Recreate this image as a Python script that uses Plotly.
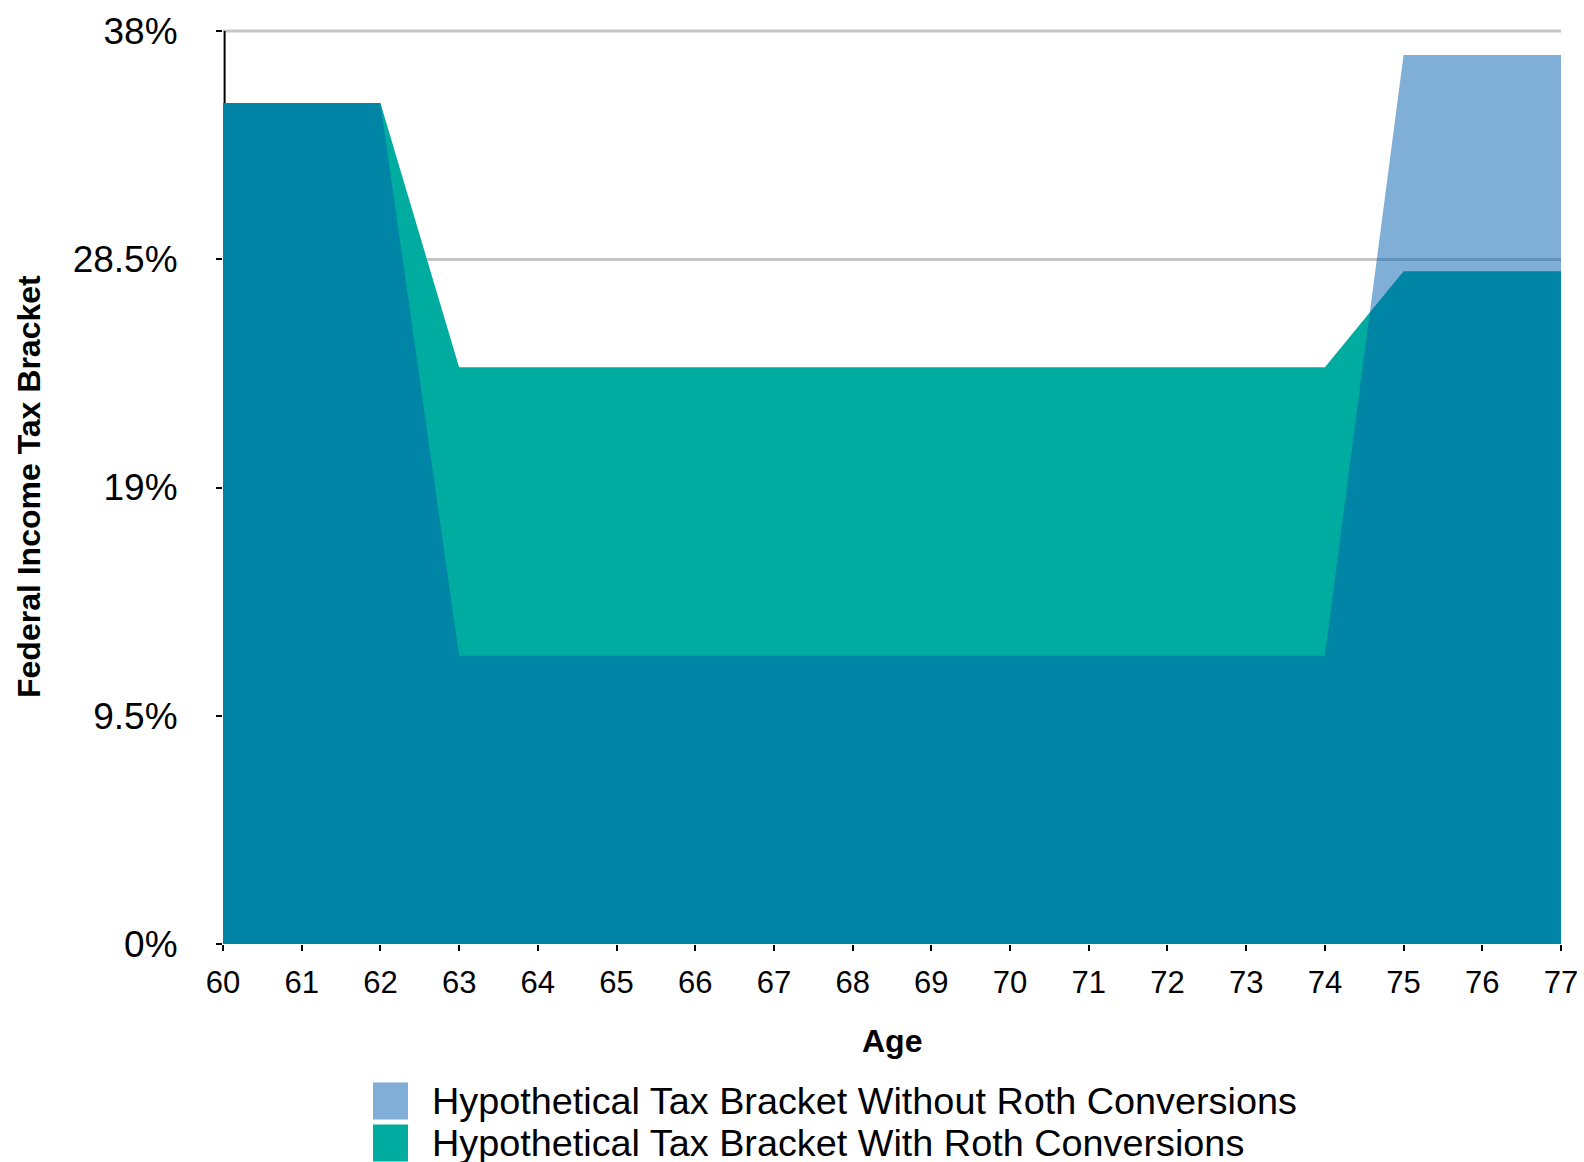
import plotly.graph_objects as go

# Ages and hypothetical federal income tax brackets (%)
ages = list(range(60, 78))
without_roth = [35, 35, 35] + [12] * 12 + [37, 37, 37]
with_roth = [35, 35, 35] + [24] * 12 + [28, 28, 28]

y_tick_vals = [0, 9.5, 19, 28.5, 38]
y_tick_text = ["0%", "9.5%", "19%", "28.5%", "38%"]

legend_names = [
    "Hypothetical Tax Bracket Without Roth Conversions",
    "Hypothetical Tax Bracket With Roth Conversions",
]
legend_colors = ["#80aed6", "#00aca0"]

FONT = "Liberation Sans, Arial, Helvetica, sans-serif"
GRID = "#c4c4c4"

W, H = 1584, 1162
L, R, T, B = 223, 23, 31, 218
plot_w = W - L - R
plot_h = H - T - B


def px_x(px):
    return (px - L) / plot_w


def px_y(py):
    return (H - B - py) / plot_h


fig = go.Figure()

# "With" series: opaque teal area
fig.add_trace(go.Scatter(
    x=ages, y=with_roth, mode="none", fill="tozeroy",
    fillcolor="#00aca0", name=legend_names[1], showlegend=False,
    hoverinfo="skip",
))
# "Without" series: translucent blue area drawn on top, overlap turns dark
fig.add_trace(go.Scatter(
    x=ages, y=without_roth, mode="none", fill="tozeroy",
    fillcolor="rgba(0,93,173,0.5)", name=legend_names[0], showlegend=False,
    hoverinfo="skip",
))

annotations = []
shapes = [
    # top gridline and the vertical axis line, both beneath the areas
    dict(type="line", xref="x domain", yref="y domain",
         x0=0, x1=1, y0=1, y1=1, layer="below",
         line=dict(color=GRID, width=3)),
    dict(type="line", xref="x domain", yref="y domain",
         x0=0.0012, x1=0.0012, y0=0, y1=1, layer="below",
         line=dict(color="#000", width=2)),
]

# Legend drawn as swatches and text below the chart
row_centers = [1101, 1143]
for name, color, cy in zip(legend_names, legend_colors, row_centers):
    shapes.append(dict(
        type="rect", xref="paper", yref="paper",
        x0=px_x(373), x1=px_x(408), y0=px_y(cy - 18.5), y1=px_y(cy + 18.5),
        fillcolor=color, line=dict(width=0), layer="above",
    ))
    annotations.append(dict(
        text=name, xref="paper", yref="paper",
        x=px_x(430), y=px_y(cy), xanchor="left", yanchor="middle",
        showarrow=False, font=dict(family=FONT, size=37.8, color="#000"),
    ))

# Axis titles
annotations.append(dict(
    text="<b>Age</b>", xref="paper", yref="paper",
    x=px_x(892), y=px_y(1041), xanchor="center", yanchor="middle",
    showarrow=False, font=dict(family=FONT, size=32, color="#000"),
))
annotations.append(dict(
    text="<b>Federal Income Tax Bracket</b>", xref="paper", yref="paper",
    x=px_x(29), y=px_y(487), xanchor="center", yanchor="middle",
    textangle=-90, showarrow=False,
    font=dict(family=FONT, size=32, color="#000"),
))

fig.update_layout(
    width=W, height=H,
    margin=dict(l=L, r=R, t=T, b=B, pad=0, autoexpand=False),
    paper_bgcolor="white", plot_bgcolor="white",
    showlegend=False,
    font=dict(family=FONT, color="#000"),
    annotations=annotations,
    shapes=shapes,
    xaxis=dict(
        range=[60, 77], tickmode="array", tickvals=ages,
        ticks="outside", ticklen=6, tickwidth=2, tickcolor="#000",
        tickfont=dict(family=FONT, size=31, color="#000"),
        ticklabelstandoff=5, automargin=False,
        showgrid=False, showline=False, zeroline=False,
        layer="below traces",
    ),
    yaxis=dict(
        range=[0, 38], tickmode="array", tickvals=y_tick_vals,
        ticktext=y_tick_text,
        ticks="outside", ticklen=6, tickwidth=2, tickcolor="#000",
        tickfont=dict(family=FONT, size=37, color="#000"),
        ticklabelstandoff=31, automargin=False,
        showgrid=True, gridcolor=GRID, gridwidth=3,
        showline=False, zeroline=False,
        layer="below traces",
    ),
)

fig.write_html("out.html")
